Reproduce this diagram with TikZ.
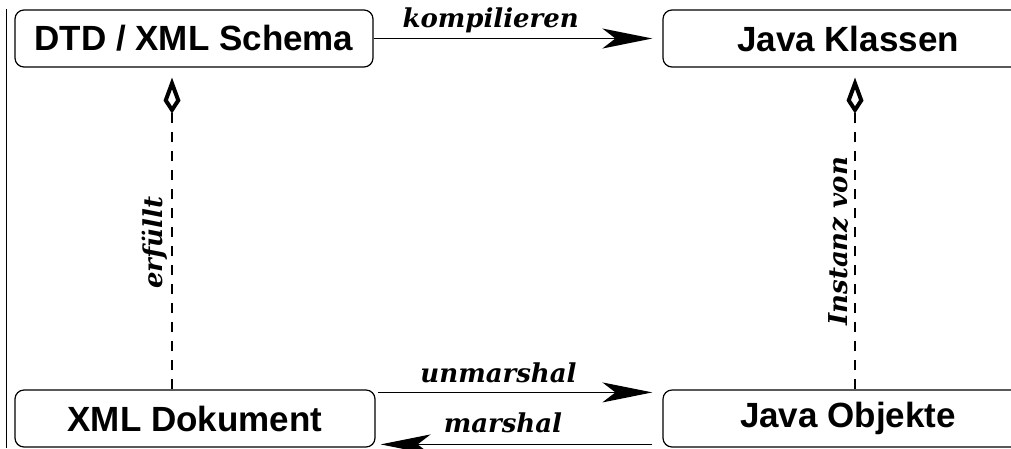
\documentclass[tikz,border=0pt]{standalone}
\usepackage{fontspec}
\setmainfont{Liberation Sans}
\newfontfamily\boxfont{Liberation Sans}
\newfontfamily\labfont{DejaVu Serif}
\usetikzlibrary{arrows.meta,calc}
\tikzset{
  box/.style={draw, line width=1.2pt, rounded corners=9pt, minimum height=57pt,
    inner sep=0pt, font=\boxfont\bfseries\fontsize{35}{35}\selectfont},
  flow/.style={line width=1.6pt, -{Stealth[length=50pt, width=20pt, inset=13pt]}},
  conform/.style={line width=1.5pt, dash pattern=on 10pt off 9pt,
    -{Kite[open, length=36pt, width=17pt, inset=13pt, line width=4pt]}},
  lab/.style={font=\labfont\bfseries\itshape\fontsize{26}{26}\selectfont, inner sep=0pt, anchor=base}
}
\begin{document}
\begin{tikzpicture}[x=1pt,y=-1pt]
\useasboundingbox (0,0) rectangle (1011,448);
\clip (0,0) rectangle (1011,448);
\node[box, minimum width=358pt] (dtd) at (194,38.5) {DTD / XML Schema};
\node[box, minimum width=370pt] (jk) at (848,38.5) {Java Klassen};
\node[box, minimum width=360pt] (xml) at (195,418.5) {XML Dokument};
\node[box, minimum width=370pt] (jo) at (848,418.5) {Java Objekte};
\draw[line width=1.2pt] ($(dtd.north west)+(-8,0)$) coordinate (lt) -- (lt |- 0,448) coordinate (lb);
\draw[flow] (dtd.east) -- node[lab, pos=0.42, yshift=11pt] {kompilieren} ($(jk.west)+(-10,0)$);
\draw[flow] ($(xml.north east)+(2,3)$) -- node[lab, pos=0.44, yshift=10pt] {unmarshal} ($(jo.north west)+(-10,3)$);
\draw[flow] ($(jo.north west)+(-10,55)$) -- node[lab, pos=0.55, yshift=12pt] {marshal} ($(xml.north east)+(5,55)$);
\draw[conform] ($(xml.north)+(-23,0)$) -- node[lab, pos=0.47, xshift=-10pt, rotate=90] {erfüllt} ($(dtd.south)+(-22,10)$);
\draw[conform] ($(jo.north)+(7,0)$) -- node[lab, pos=0.475, xshift=-8pt, rotate=90] {Instanz von} ($(jk.south)+(7,10)$);
\end{tikzpicture}
\end{document}
